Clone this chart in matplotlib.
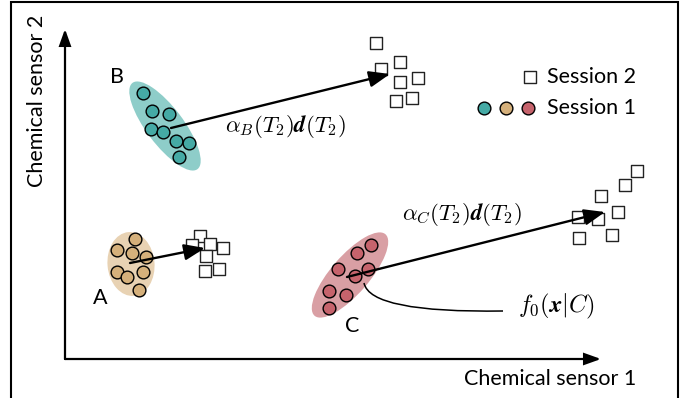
import numpy as np
import matplotlib
matplotlib.use("Agg")
import matplotlib.pyplot as plt
from matplotlib.patches import Ellipse, FancyArrowPatch, PathPatch
from matplotlib.path import Path

plt.rcParams['font.family'] = ['Lato', 'DejaVu Sans']
plt.rcParams['mathtext.fontset'] = 'cm'

# sensor readings, session 1 (circles) and session 2 (squares)
a1_s1 = [70, 52, 67, 81, 52, 62, 78, 74]
a1_s2 = [120, 109, 106, 102, 87, 82, 87, 69]
a2_s1 = [135, 127, 145, 158, 141, 140, 154]
a2_s2 = [123, 114, 115, 111, 103, 88, 90]

b1_s1 = [78, 87, 104, 86, 98, 111, 124, 114]
b1_s2 = [266, 248, 245, 230, 227, 218, 216, 202]
b2_s1 = [311, 335, 316, 335, 353, 331, 347]
b2_s2 = [316, 297, 290, 277, 281, 258, 261]

c1_s1 = [306, 292, 273, 303, 290, 264, 281, 264]
c1_s2 = [114, 106, 90, 90, 83, 68, 64, 51]
c2_s1 = [572, 560, 536, 513, 533, 553, 514, 547]
c2_s2 = [188, 174, 163, 142, 140, 147, 121, 124]

# drift vectors (start -> end)
drift_a = [(65, 96), (140, 111)]
drift_b = [(106, 231), (325, 285)]
drift_c = [(282, 82), (540, 147)]

teal, teal_l = '#45aaa5', '#8ecdc9'
tan, tan_l = '#d5b07b', '#e8d2b3'
red, red_l = '#c6636c', '#d99fa4'

fs = 15.5

fig = plt.figure(figsize=(6.88, 3.98), dpi=100)
ax = fig.add_axes([0, 0, 1, 1])
ax.set_xlim(-65, 623)
ax.set_ylim(-39, 359)
ax.axis('off')

# outer frame
ax.plot([-54, -54, 613, 613], [-60, 357, 357, -60], color='black', lw=1.5,
        solid_joinstyle='miter', clip_on=False)

# sensor axes
for end in [(0, 330), (536, 0)]:
    ax.add_patch(FancyArrowPatch((0, 0), end, arrowstyle='-|>,head_length=0.7,head_width=0.25',
                                 mutation_scale=14, lw=1.6, color='black',
                                 shrinkA=0, shrinkB=0, joinstyle='miter'))
ax.text(485, -20, 'Chemical sensor 1', fontsize=fs, ha='center', va='center')
ax.text(-28, 258, 'Chemical sensor 2', fontsize=fs, ha='center', va='center',
        rotation=90)

# cluster envelopes
ax.add_patch(Ellipse((66, 95), 47, 64, angle=5, color=tan_l, lw=0))
ax.add_patch(Ellipse((100, 233), 108, 37, angle=-53, color=teal_l, lw=0))
ax.add_patch(Ellipse((285, 84), 108, 38, angle=49, color=red_l, lw=0))

circ = dict(s=84, edgecolors='black', linewidths=1.0, zorder=3)
sq = dict(s=64, marker='s', facecolors='white', edgecolors='#222222',
          linewidths=1.0, zorder=3)

ax.scatter(a1_s1, a1_s2, c=tan, **circ)
ax.scatter(b1_s1, b1_s2, c=teal, **circ)
ax.scatter(c1_s1, c1_s2, c=red, **circ)
ax.scatter(a2_s1, a2_s2, **sq)
ax.scatter(b2_s1, b2_s2, **sq)
ax.scatter(c2_s1, c2_s2, **sq)

for start, end in [drift_a, drift_b, drift_c]:
    ax.add_patch(FancyArrowPatch(start, end, arrowstyle='-|>,head_length=0.9,head_width=0.35',
                                 mutation_scale=14, lw=1.7, color='black',
                                 shrinkA=0, shrinkB=0, zorder=4))

ax.text(35, 61, 'A', fontsize=fs, ha='center', va='center')
ax.text(52, 282, 'B', fontsize=fs, ha='center', va='center')
ax.text(287, 33, 'C', fontsize=fs, ha='center', va='center')

ax.text(220, 232, r'$\alpha_B(T_2)\mathbfit{d}(T_2)$', fontsize=16.5,
        ha='center', va='center')
ax.text(397, 145, r'$\alpha_C(T_2)\mathbfit{d}(T_2)$', fontsize=16.5,
        ha='center', va='center')

# density annotation for cluster C
curve = Path([(299, 76), (305, 46), (438, 48)], [Path.MOVETO, Path.CURVE3, Path.CURVE3])
ax.add_patch(PathPatch(curve, fc='none', ec='black', lw=1.1, zorder=4))
ax.text(491, 53, r'$f_0(\mathbfit{x}|C)$', fontsize=17.5, ha='center', va='center')

# legend
ax.scatter([465], [282], **sq)
ax.text(482, 282, 'Session 2', fontsize=fs, ha='left', va='center')
ax.scatter([419], [251], c=teal, **circ)
ax.scatter([441], [251], c=tan, **circ)
ax.scatter([463], [251], c=red, **circ)
ax.text(482, 251, 'Session 1', fontsize=fs, ha='left', va='center')

fig.savefig('out.png', dpi=100)
